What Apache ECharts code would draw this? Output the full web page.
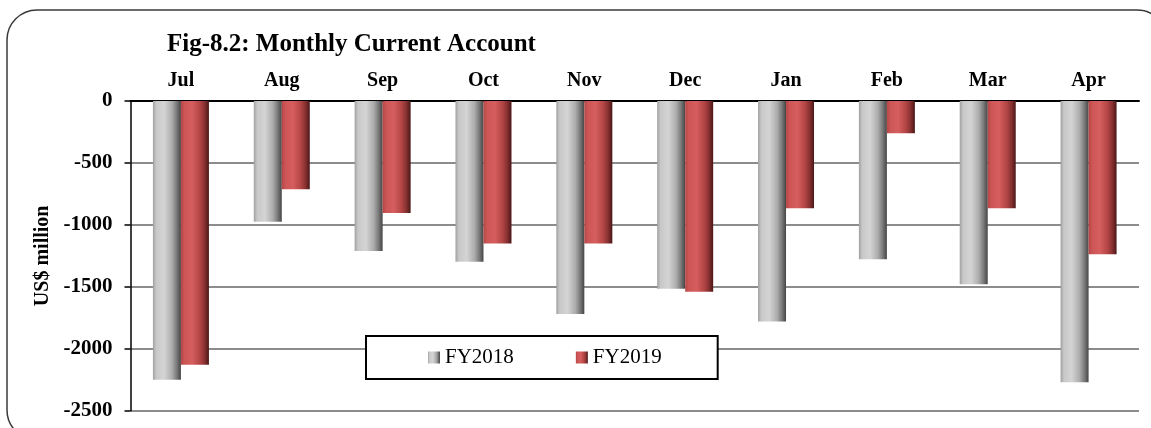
<!DOCTYPE html>
<html>
<head>
<meta charset="utf-8">
<script src="https://cdn.jsdelivr.net/npm/echarts@6/dist/echarts.min.js"></script>
<style>
  html, body { margin: 0; padding: 0; background: #fff; }
  #chart { width: 1151px; height: 428px; }
</style>
</head>
<body>
<div id="chart"></div>
<script>
// ── Data ──────────────────────────────────────────────────────────────────────
const months = ['Jul', 'Aug', 'Sep', 'Oct', 'Nov', 'Dec', 'Jan', 'Feb', 'Mar', 'Apr'];
const fy2018 = [-2250, -975, -1210, -1297, -1720, -1515, -1780, -1278, -1480, -2270];
const fy2019 = [-2130, -713, -905, -1150, -1150, -1540, -865, -260, -865, -1237];
const seriesNames = ['FY2018', 'FY2019'];

const SERIF = '"Liberation Serif", "Times New Roman", serif';

// Horizontal gradient gives the bevelled cylinder look of the original
function _bevel(stops) {
  return {
    type: 'linear', x: 0, y: 0, x2: 1, y2: 0,
    colorStops: stops.map(([offset, color]) => ({ offset, color })),
  };
}

const grayFill = _bevel([
  [0, '#a0a0a0'], [0.12, '#c8c8c8'], [0.4, '#d4d4d4'],
  [0.68, '#acacac'], [0.85, '#7a7a7a'], [1, '#454545'],
]);
const redFill = _bevel([
  [0, '#b44646'], [0.12, '#cc5555'], [0.4, '#d65e5e'],
  [0.68, '#b34545'], [0.85, '#863030'], [1, '#4a1616'],
]);

const chart = echarts.init(document.getElementById('chart'), null, { renderer: 'canvas' });

chart.setOption({
  backgroundColor: '#fff',
  animation: false,
  title: {
    text: 'Fig-8.2: Monthly Current Account',
    left: 162,
    top: 27,
    textStyle: { fontFamily: SERIF, fontSize: 25, fontWeight: 'bold', color: '#000' },
  },
  graphic: [{
    type: 'rect',
    z: -1,
    shape: { x: 7, y: 10, width: 1160, height: 430, r: 30 },
    style: { fill: 'none', stroke: '#3a3a3a', lineWidth: 1.5 },
  }],
  legend: {
    data: seriesNames,
    left: 366,
    top: 336,
    padding: [11, 56, 11, 62],
    itemWidth: 12,
    itemHeight: 12,
    itemGap: 62,
    icon: 'rect',
    backgroundColor: '#fff',
    borderColor: '#000',
    borderWidth: 2,
    textStyle: { fontFamily: SERIF, fontSize: 21, color: '#000' },
  },
  grid: { left: 130.5, right: 12, top: 101, bottom: 17.3 },
  xAxis: {
    type: 'category',
    position: 'top',
    data: months,
    axisLine: { lineStyle: { color: '#000', width: 2 } },
    axisTick: { inside: true, length: 5, lineStyle: { color: '#000', width: 1.5 } },
    axisLabel: {
      margin: 10,
      fontFamily: SERIF, fontSize: 20, fontWeight: 'bold', color: '#000',
    },
  },
  yAxis: {
    type: 'value',
    min: -2500,
    max: 0,
    interval: 500,
    name: 'US$ million',
    nameLocation: 'middle',
    nameGap: 77,
    nameTextStyle: { fontFamily: SERIF, fontSize: 20, fontWeight: 'bold', color: '#000' },
    axisLine: { show: true, lineStyle: { color: '#000', width: 1.5 } },
    axisTick: { show: true, length: 6, lineStyle: { color: '#000', width: 1.5 } },
    axisLabel: {
      margin: 18,
      fontFamily: SERIF, fontSize: 21, fontWeight: 'bold', color: '#000',
      formatter: v => String(v),
    },
    splitLine: { lineStyle: { color: '#8c8c8c', width: 2 } },
  },
  series: [
    {
      name: seriesNames[0],
      type: 'bar',
      data: fy2018,
      barWidth: 28,
      barGap: '0%',
      itemStyle: { color: grayFill },
    },
    {
      name: seriesNames[1],
      type: 'bar',
      data: fy2019,
      barWidth: 28,
      barGap: '0%',
      itemStyle: { color: redFill },
    },
  ],
});
</script>
</body>
</html>
